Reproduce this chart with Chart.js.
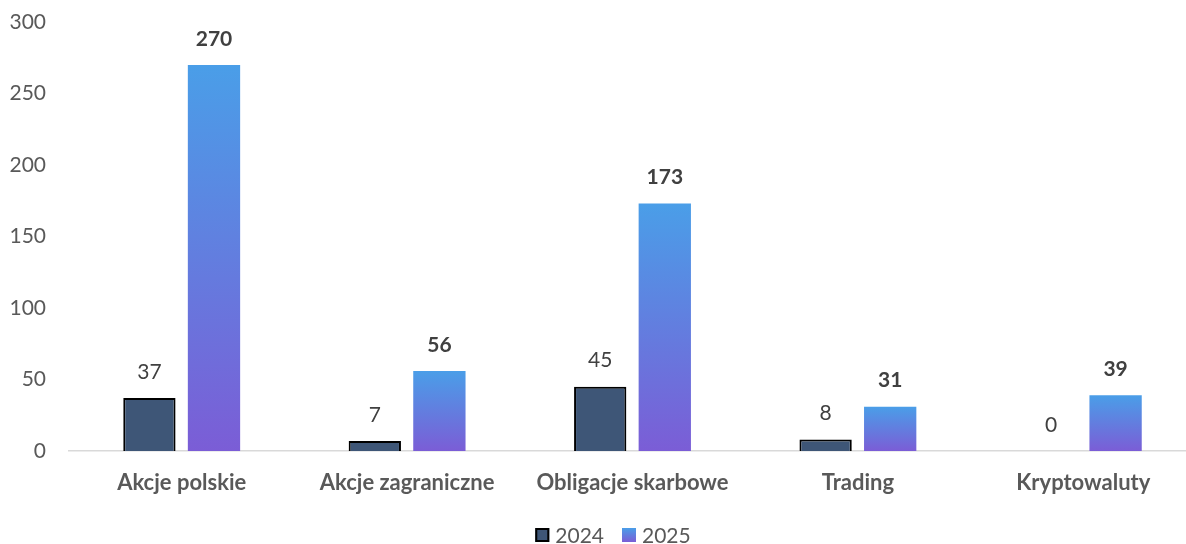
<!DOCTYPE html>
<html>
<head>
<meta charset="utf-8">
<script src="https://cdn.jsdelivr.net/npm/chart.js@4.4.1/dist/chart.umd.min.js"></script>
<style>
html,body{margin:0;padding:0;background:#fff;overflow:hidden;}
#wrap{position:relative;width:1196px;height:544px;}
</style>
</head>
<body>
<div id="wrap"><canvas id="c"></canvas></div>
<script>
const categories = ['Akcje polskie', 'Akcje zagraniczne', 'Obligacje skarbowe', 'Trading', 'Kryptowaluty'];
const seriesNames = ['2024', '2025'];
const values2024 = [37, 7, 45, 8, 0];
const values2025 = [270, 56, 173, 31, 39];
const yTicks = [0, 50, 100, 150, 200, 250, 300];

const FONT = 'Lato';
const C_2024 = '#3E5677';
const C_TOP = '#4A9EE8';
const C_BOT = '#7B5DD6';

function barGradient(context) {
  const chart = context.chart;
  const y = chart.scales && chart.scales.y;
  if (context.type !== 'data' || !y || !chart.chartArea) return C_TOP;
  const top = y.getPixelForValue(context.raw);
  const bot = y.getPixelForValue(0);
  if (!isFinite(top) || Math.abs(bot - top) < 1) return C_TOP;
  const g = chart.ctx.createLinearGradient(0, top, 0, bot);
  g.addColorStop(0, C_TOP);
  g.addColorStop(1, C_BOT);
  return g;
}

const valueLabels = {
  id: 'valueLabels',
  afterDatasetsDraw(chart) {
    const ctx = chart.ctx;
    ctx.save();
    ctx.textAlign = 'center';
    ctx.textBaseline = 'middle';
    chart.data.datasets.forEach((ds, di) => {
      const meta = chart.getDatasetMeta(di);
      ctx.font = (di === 1 ? 'bold ' : '') + '21px ' + FONT;
      ctx.fillStyle = '#404040';
      meta.data.forEach((bar, i) => {
        ctx.fillText(String(ds.data[i]), bar.x, bar.y - 26);
      });
    });
    ctx.restore();
  }
};

const customLegend = {
  id: 'customLegend',
  afterDraw(chart) {
    const ctx = chart.ctx;
    ctx.save();
    ctx.font = '21px ' + FONT;
    ctx.textBaseline = 'middle';
    ctx.textAlign = 'left';
    const box = 14, gapText = 6, gapItem = 18;
    const widths = seriesNames.map(n => box + gapText + ctx.measureText(n).width);
    const total = widths.reduce((a, b) => a + b, 0) + gapItem * (seriesNames.length - 1);
    let x = 613 - total / 2;
    const cy = 535;
    seriesNames.forEach((n, i) => {
      const bx = x, by = cy - box / 2;
      if (i === 0) {
        ctx.fillStyle = C_2024;
        ctx.fillRect(bx, by, box, box);
        ctx.strokeStyle = '#000';
        ctx.lineWidth = 2;
        ctx.strokeRect(bx + 1, by + 1, box - 2, box - 2);
      } else {
        const g = ctx.createLinearGradient(0, by, 0, by + box);
        g.addColorStop(0, C_TOP);
        g.addColorStop(1, C_BOT);
        ctx.fillStyle = g;
        ctx.fillRect(bx, by, box, box);
      }
      ctx.fillStyle = '#595959';
      ctx.fillText(n, bx + box + gapText, cy + 1);
      x += widths[i] + gapItem;
    });
    ctx.restore();
  }
};

new Chart(document.getElementById('c'), {
  type: 'bar',
  data: {
    labels: categories,
    datasets: [
      {
        label: seriesNames[0],
        data: values2024,
        backgroundColor: C_2024,
        borderColor: '#000000',
        borderWidth: 2,
        categoryPercentage: 0.573,
        barPercentage: 0.81
      },
      {
        label: seriesNames[1],
        data: values2025,
        backgroundColor: barGradient,
        borderWidth: 0,
        categoryPercentage: 0.573,
        barPercentage: 0.81
      }
    ]
  },
  options: {
    responsive: true,
    maintainAspectRatio: false,
    animation: false,
    layout: { padding: { top: 22, left: 0, right: 0, bottom: 49 } },
    plugins: {
      legend: { display: false },
      tooltip: { enabled: false }
    },
    scales: {
      x: {
        grid: { display: false, drawTicks: false },
        border: { display: true, color: '#D9D9D9', width: 1.5 },
        ticks: {
          color: '#595959',
          padding: 19,
          font: { family: FONT, size: 22, weight: 'bold' }
        },
        afterFit(scale) {
          scale.height = 44;
          scale.paddingLeft = 0; scale.paddingRight = 0;
        }
      },
      y: {
        min: 0,
        max: 300,
        afterBuildTicks(scale) { scale.ticks = yTicks.map(v => ({ value: v })); },
        grid: { display: false, drawTicks: false },
        border: { display: false },
        ticks: {
          color: '#595959',
          padding: 23,
          font: { family: FONT, size: 21 }
        },
        afterFit(scale) {
          scale.width = 69;
          scale.paddingTop = 0; scale.paddingBottom = 0;
        }
      }
    }
  },
  plugins: [valueLabels, customLegend]
});
</script>
</body>
</html>
